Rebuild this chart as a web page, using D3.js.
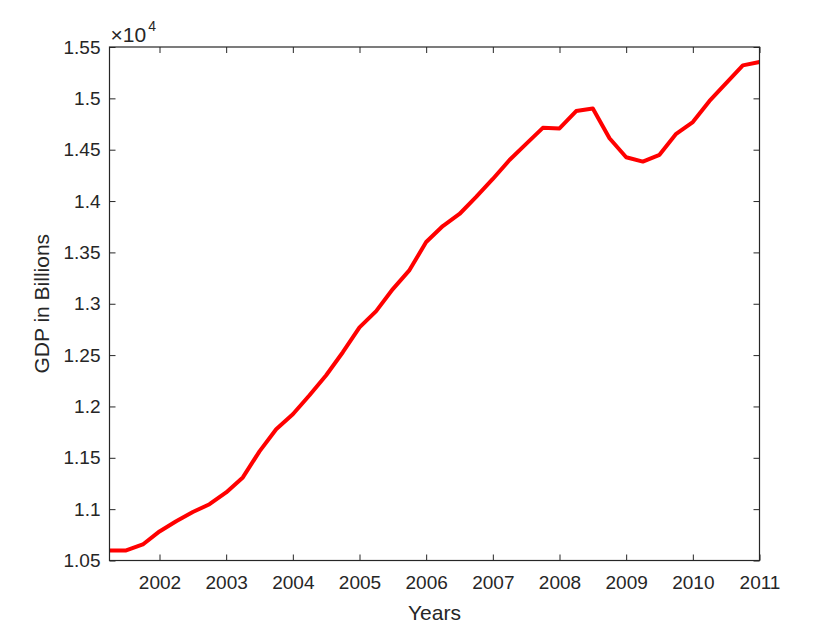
<!DOCTYPE html>
<html>
<head>
<meta charset="utf-8">
<script src="https://cdn.jsdelivr.net/npm/d3@7"></script>
<style>
  body { margin: 0; background: #fff; }
  text { font-family: "Liberation Sans", Arial, sans-serif; fill: #262626; }
</style>
</head>
<body>
<script>
// quarterly GDP (billions)
var quarters = [2001.25, 2001.5, 2001.75, 2002, 2002.25, 2002.5, 2002.75, 2003,
                2003.25, 2003.5, 2003.75, 2004, 2004.25, 2004.5, 2004.75, 2005,
                2005.25, 2005.5, 2005.75, 2006, 2006.25, 2006.5, 2006.75, 2007,
                2007.25, 2007.5, 2007.75, 2008, 2008.25, 2008.5, 2008.75, 2009,
                2009.25, 2009.5, 2009.75, 2010, 2010.25, 2010.5, 2010.75, 2011];
var gdp = [10598, 10598, 10656, 10783, 10882, 10972, 11048, 11163,
           11309, 11563, 11778, 11924, 12109, 12304, 12528, 12770,
           12928, 13143, 13328, 13601, 13757, 13874, 14040, 14215,
           14400, 14557, 14713, 14707, 14876, 14902, 14612, 14427,
           14384, 14450, 14655, 14769, 14975, 15149, 15321, 15354];

var xTicks = [2002, 2003, 2004, 2005, 2006, 2007, 2008, 2009, 2010, 2011];
var yTicks = [10500, 11000, 11500, 12000, 12500, 13000, 13500, 14000, 14500, 15000, 15500];
var yTickLabels = ["1.05", "1.1", "1.15", "1.2", "1.25", "1.3", "1.35", "1.4", "1.45", "1.5", "1.55"];

var width = 840, height = 630;
var pLeft = 109.5, pRight = 759.5, pTop = 47, pBottom = 560.5;

var svg = d3.select('body')
            .append('svg')
            .attr('width', width)
            .attr('height', height);

var x = d3.scaleLinear().domain([2001.25, 2011]).range([pLeft, pRight]);
var y = d3.scaleLinear().domain([10500, 15500]).range([pBottom, pTop]);

var line = d3.line()
             .x(function(d, i){ return x(quarters[i]); })
             .y(function(d){ return y(d); });

svg.append('path')
   .datum(gdp)
   .attr('d', line)
   .attr('fill', 'none')
   .attr('stroke', '#ff0000')
   .attr('stroke-width', 4)
   .attr('stroke-linejoin', 'round');

function styleAxis(g){
  g.select('.domain').remove();
  g.selectAll('line').attr('stroke', '#262626').attr('stroke-width', 1);
  g.selectAll('text').attr('font-size', 19).attr('fill', '#262626')
   .style('font-family', '"Liberation Sans", Arial, sans-serif');
}

// bottom & left with labels, ticks pointing in
svg.append('g')
   .attr('transform', 'translate(0,' + pBottom + ')')
   .call(d3.axisBottom(x).tickValues(xTicks).tickSize(-6).tickPadding(15)
         .tickFormat(d3.format('d')))
   .call(styleAxis);

svg.append('g')
   .attr('transform', 'translate(' + pLeft + ',0)')
   .call(d3.axisLeft(y).tickValues(yTicks).tickSize(-6).tickPadding(9)
         .tickFormat(function(d, i){ return yTickLabels[i]; }))
   .call(styleAxis);

// top & right, ticks only
svg.append('g')
   .attr('transform', 'translate(0,' + pTop + ')')
   .call(d3.axisTop(x).tickValues(xTicks).tickSize(-6).tickFormat(''))
   .call(styleAxis);

svg.append('g')
   .attr('transform', 'translate(' + pRight + ',0)')
   .call(d3.axisRight(y).tickValues(yTicks).tickSize(-6).tickFormat(''))
   .call(styleAxis);

// box
svg.append('rect')
   .attr('x', pLeft).attr('y', pTop)
   .attr('width', pRight - pLeft).attr('height', pBottom - pTop)
   .attr('fill', 'none')
   .attr('stroke', '#262626')
   .attr('stroke-width', 1.2);

// exponent label
var expo = svg.append('text')
   .attr('x', pLeft + 1)
   .attr('y', 42)
   .attr('font-size', 21);
expo.append('tspan').text('\u00d710');
expo.append('tspan').attr('font-size', 14).attr('dy', -11).attr('dx', 2).text('4');

svg.append('text')
   .attr('x', (pLeft + pRight) / 2)
   .attr('y', 620)
   .attr('text-anchor', 'middle')
   .attr('font-size', 21)
   .text('Years');

svg.append('text')
   .attr('transform', 'translate(49,' + ((pTop + pBottom) / 2) + ') rotate(-90)')
   .attr('text-anchor', 'middle')
   .attr('font-size', 21)
   .text('GDP in Billions');
</script>
</body>
</html>
